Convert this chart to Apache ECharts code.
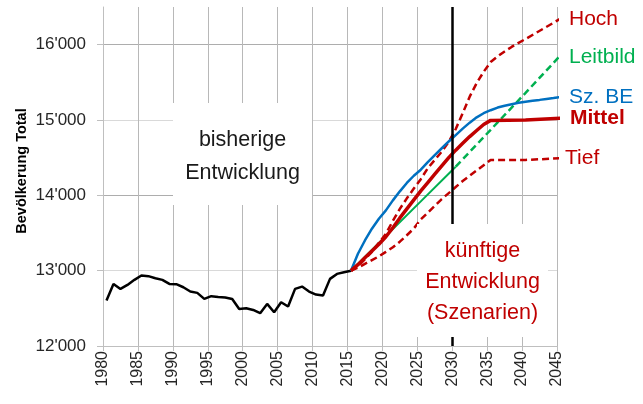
<!DOCTYPE html>
<html><head><meta charset="utf-8">
<script src="https://cdn.jsdelivr.net/npm/echarts@6/dist/echarts.min.js"></script>
<style>html,body{margin:0;padding:0;background:#fff}#c{width:643px;height:404px}</style>
</head><body><div id="c"></div>
<script>
// ---- data ----
const histYears = [1980,1981,1982,1983,1984,1985,1986,1987,1988,1989,1990,1991,1992,1993,1994,1995,1996,1997,1998,1999,2000,2001,2002,2003,2004,2005,2006,2007,2008,2009,2010,2011,2012,2013,2014,2015];
const histValues = [12604,12824,12758,12811,12878,12936,12927,12900,12878,12824,12820,12780,12723,12705,12625,12661,12652,12645,12625,12492,12501,12479,12435,12559,12448,12581,12524,12758,12789,12723,12683,12670,12891,12957,12980,13000];

const beYears = [2015,2016,2017,2018,2019,2020,2021,2022,2023,2024,2025,2026,2027,2028,2029,2030,2031,2032,2033,2034,2035,2036,2037,2038,2039,2040,2041,2042,2043,2044,2045];
const beValues = [13000,13225,13401,13557,13690,13800,13933,14053,14164,14260,14340,14440,14535,14625,14715,14800,14885,14965,15035,15090,15130,15165,15190,15210,15228,15243,15255,15267,15280,15292,15305];

const scenYears = [2015,2016,2017,2018,2019,2020,2021,2022,2023,2024,2025,2026,2027,2028,2029,2030,2031,2032,2033,2034,2035,2040,2045];
const mittelValues = [13000,13080,13170,13260,13350,13450,13570,13700,13820,13940,14060,14170,14280,14390,14500,14600,14690,14780,14860,14940,14995,15000,15025];
const hochYears = [2015,2016,2017,2018,2019,2020,2021,2022,2023,2024,2025,2026,2027,2028,2029,2030,2031,2032,2033,2034,2035,2036,2037,2038,2039,2040,2045];
const hochValues = [13000,13060,13150,13250,13370,13490,13660,13820,13960,14090,14215,14360,14470,14580,14710,14880,15090,15310,15490,15640,15770,15845,15910,15970,16025,16075,16345];
const tiefValues = [13000,13040,13090,13140,13190,13250,13310,13385,13470,13560,13680,13770,13860,13950,14030,14110,14190,14260,14330,14400,14470,14470,14492];

const leitYearsSolid = [2015,2020,2025,2030];
const leitValuesSolid = [13000,13460,13920,14380];
const leitYearsDashed = [2030,2035,2040,2045];
const leitValuesDashed = [14380,14870,15360,15858];

const yTickValues = [12000,13000,14000,15000,16000];
const dividerYear = 2030;
const seriesNames = {hoch:'Hoch', leit:'Leitbild', be:'Sz. BE', mittel:'Mittel', tief:'Tief'};
const yAxisTitle = 'Bevölkerung Total';
const noteLeft = 'bisherige\nEntwicklung';
const noteRight = 'künftige\nEntwicklung\n(Szenarien)';

// ---- chart ----
const FONT = '"Liberation Sans", Arial, sans-serif';
const RED = '#C00000', BLUE = '#0070C0', GREEN = '#00B050';
const zip = (xs, ys) => xs.map((x, i) => [x, ys[i]]);

function lineSeries(name, xs, ys, color, width, type, label, extra) {
  const s = {
    name, type: 'line', xAxisIndex: 1, data: zip(xs, ys), showSymbol: false, symbol: 'none',
    smooth: false, lineStyle: {color, width, type, cap: 'butt'}, z: 3
  };
  if (label) {
    s.endLabel = Object.assign({show: true, formatter: '{a}', color, fontSize: 21, fontFamily: FONT, distance: 10}, label);
  }
  return Object.assign(s, extra || {});
}

const chart = echarts.init(document.getElementById('c'), null, {renderer: 'canvas'});
chart.setOption({
  animation: false,
  backgroundColor: '#fff',
  grid: {left: 103, right: 86, top: 7, bottom: 58},
  xAxis: [{
    type: 'value', min: 1980, max: 2045, interval: 5,
    axisLine: {lineStyle: {color: '#bfbfbf', width: 1}},
    axisTick: {show: true, length: 5, lineStyle: {color: '#bfbfbf'}},
    splitLine: {show: true, lineStyle: {color: '#b8b8b8', width: 1}},
    axisLabel: {rotate: 90, margin: 5, color: '#262626', fontSize: 16, fontFamily: FONT,
      formatter: v => String(v)}
  }, {
    type: 'value', min: 1979.5, max: 2044.5, show: false
  }],
  yAxis: {
    type: 'value', min: 12000, max: 16500, interval: 500,
    axisLine: {show: true, lineStyle: {color: '#bfbfbf'}},
    axisTick: {show: true, length: 6, customValues: yTickValues, lineStyle: {color: '#bfbfbf'}},
    axisLabel: {customValues: yTickValues, margin: 17, color: '#262626', fontSize: 17, fontFamily: FONT,
      formatter: v => (v / 1000) + "'000"},
    splitLine: {show: true, lineStyle: {color: ['#adadad', '#d9d9d9'], width: 1}}
  },
  series: [
    {
      type: 'line', xAxisIndex: 0, data: [], z: 2,
      markLine: {silent: true, symbol: 'none', label: {show: false},
        lineStyle: {color: '#000', width: 2.5, type: 'solid'},
        data: [{xAxis: dividerYear}]}
    },
    lineSeries('hist', histYears, histValues, '#000', 2.5, 'solid', null),
    lineSeries(seriesNames.leit + '_s', leitYearsSolid, leitValuesSolid, GREEN, 2, 'solid', null),
    lineSeries(seriesNames.leit, leitYearsDashed, leitValuesDashed, GREEN, 2.5, [7, 4], {}),
    lineSeries(seriesNames.tief, scenYears, tiefValues, RED, 2.5, [7, 4], {distance: 6}),
    lineSeries(seriesNames.hoch, hochYears, hochValues, RED, 2.5, [7, 4], {}),
    lineSeries(seriesNames.be, beYears, beValues, BLUE, 2.5, 'solid', {}),
    lineSeries(seriesNames.mittel, scenYears, mittelValues, RED, 3.5, 'solid', {fontWeight: 'bold'})
  ],
  graphic: [
    {type: 'text', z: 101, x: 22, y: 171, rotation: Math.PI / 2,
      style: {text: yAxisTitle, x: 0, y: 0, fill: '#000',
        font: 'bold 14.5px ' + FONT, fontSize: 14.5, fontWeight: 'bold', fontFamily: FONT,
        textAlign: 'center', textVerticalAlign: 'middle', align: 'center', verticalAlign: 'middle'}},
    {type: 'rect', z: 100, shape: {x: 173, y: 103, width: 139, height: 102}, style: {fill: '#fff'}},
    {type: 'text', z: 101, style: {text: noteLeft, x: 242.5, y: 156.5, fill: '#1a1a1a',
      font: '21.5px ' + FONT, fontSize: 21.5, fontFamily: FONT,
      textAlign: 'center', textVerticalAlign: 'middle', align: 'center', verticalAlign: 'middle', lineHeight: 33}},
    {type: 'rect', z: 100, shape: {x: 417, y: 224, width: 131, height: 113}, style: {fill: '#fff'}},
    {type: 'text', z: 101, style: {text: noteRight, x: 482.5, y: 282.5, fill: RED,
      font: '21.5px ' + FONT, fontSize: 21.5, fontFamily: FONT,
      textAlign: 'center', textVerticalAlign: 'middle', align: 'center', verticalAlign: 'middle', lineHeight: 31}}
  ]
});
</script></body></html>
